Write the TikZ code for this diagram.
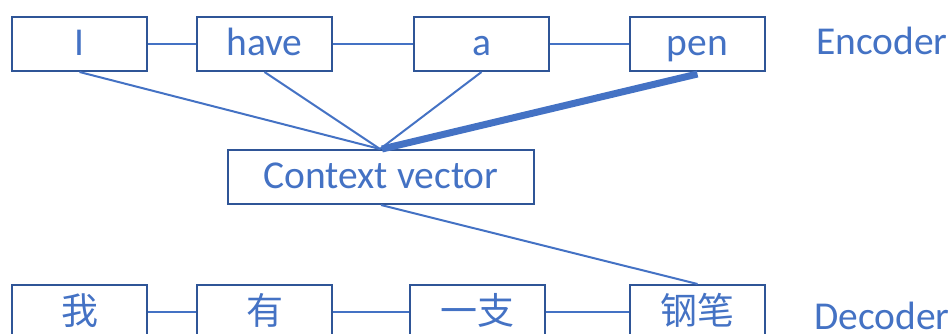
\documentclass[tikz,border=0pt]{standalone}
\usepackage{fontspec}
\setmainfont{Carlito}
\newfontfamily\cjk{Noto Sans CJK SC}
\definecolor{txtblue}{HTML}{4472C4}
\definecolor{boxblue}{HTML}{2F5597}
\begin{document}
\begin{tikzpicture}[x=1pt,y=-1pt,
  wbox/.style={draw=boxblue, line width=2pt, minimum width=135pt, minimum height=54pt, inner sep=0pt, text=txtblue, font=\fontsize{39.5}{42}\selectfont, text height=25pt, text depth=3pt, anchor=north west},
  cjkbox/.style={wbox, font=\cjk\fontsize{37}{40}\selectfont, text height=29pt, text depth=4pt},
  cbox/.style={wbox, minimum width=306pt},
  lbl/.style={text=txtblue, font=\fontsize{39.5}{42}\selectfont, anchor=base west, inner sep=0pt},
  conn/.style={draw=txtblue, line width=2pt},
  thick conn/.style={draw=txtblue, line width=7pt}]
\useasboundingbox (0,0) rectangle (952,333);
\begin{scope}
\clip (0,0) rectangle (952,333);
% encoder
\node[wbox] (e1) at (11,16) {I};
\node[wbox] (e2) at (196,16) {have};
\node[wbox] (e3) at (413,16) {a};
\node[wbox] (e4) at (629,16) {pen};
\node[lbl] (enc) at (816,54) {Encoder};
% context
\node[cbox] (ctx) at (227,149) {Context vector};
% decoder
\node[cjkbox] (d1) at (11,284) {我};
\node[cjkbox] (d2) at (196,284) {有};
\node[cjkbox] (d3) at (409,284) {一支};
\node[cjkbox] (d4) at (629,284) {钢笔};
\node[lbl] (dec) at (814,329) {Decoder};
% chain connectors
\draw[conn] (e1) -- (e2);
\draw[conn] (e2) -- (e3);
\draw[conn] (e3) -- (e4);
\draw[conn] (d1) -- (d2);
\draw[conn] (d2) -- (d3);
\draw[conn] (d3) -- (d4);
% attention
\coordinate (ctop) at ([xshift=-1pt]ctx.north);
\draw[conn] (e1.south) -- (ctop);
\draw[conn] (e2.south) -- (ctop);
\draw[conn] (e3.south) -- (ctop);
\draw[thick conn] ([xshift=1pt]ctx.north) -- ([yshift=-2pt]e4.south);
\draw[conn] (ctx.south) -- (d4.north);
\end{scope}
\end{tikzpicture}
\end{document}
